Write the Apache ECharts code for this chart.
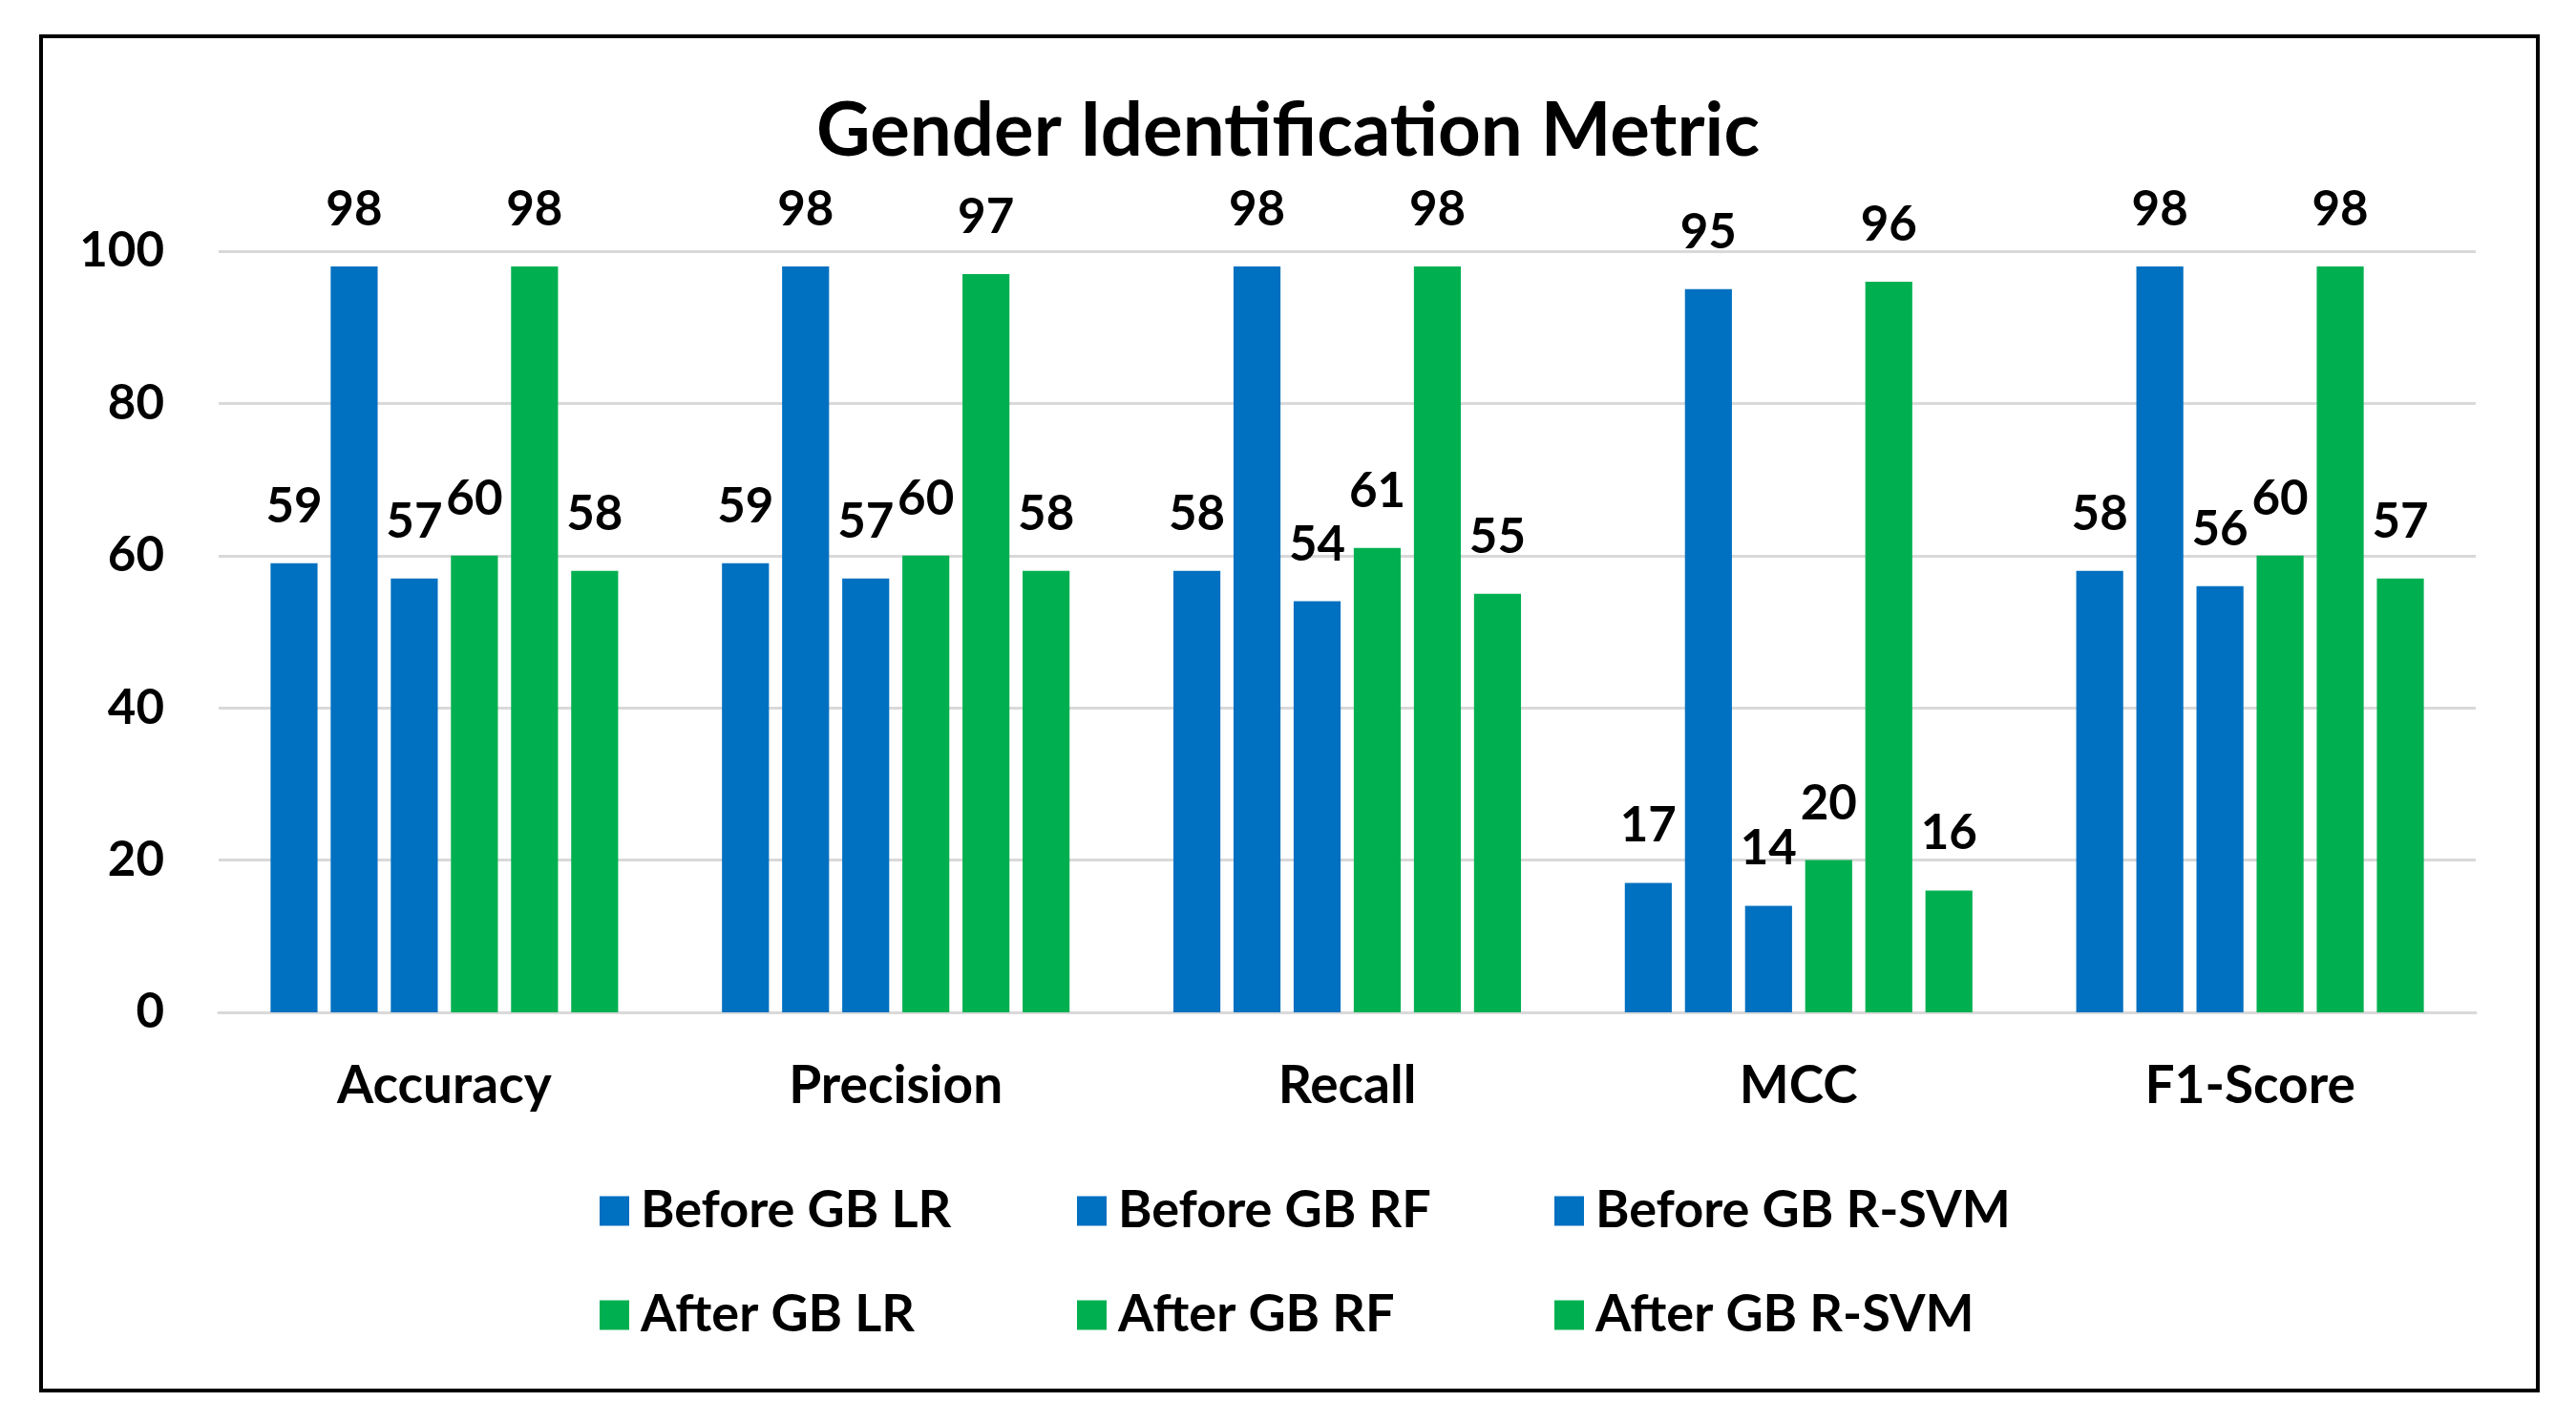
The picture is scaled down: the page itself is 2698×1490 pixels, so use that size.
<!DOCTYPE html>
<html>
<head>
<meta charset="utf-8">
<script src="https://cdn.jsdelivr.net/npm/echarts@6/dist/echarts.min.js"></script>
<style>
html,body{margin:0;padding:0;background:#fff;}
#chart{width:2698px;height:1490px;}
</style>
</head>
<body>
<div id="chart"></div>
<script>
const categories = ['Accuracy', 'Precision', 'Recall', 'MCC', 'F1-Score'];
const seriesNames = ['Before GB LR', 'Before GB RF', 'Before GB R-SVM', 'After GB LR', 'After GB RF', 'After GB R-SVM'];
const beforeLR = [59, 59, 58, 17, 58];
const beforeRF = [98, 98, 98, 95, 98];
const beforeRSVM = [57, 57, 54, 14, 56];
const afterLR = [60, 60, 61, 20, 60];
const afterRF = [98, 97, 98, 96, 98];
const afterRSVM = [58, 58, 55, 16, 57];
const yTicks = [0, 20, 40, 60, 80, 100];

const seriesData = [beforeLR, beforeRF, beforeRSVM, afterLR, afterRF, afterRSVM];
const BLUE = '#0070C0', GREEN = '#00B050';
const colors = [BLUE, BLUE, BLUE, GREEN, GREEN, GREEN];
const FONT = 'Lato';

const chart = echarts.init(document.getElementById('chart'), null, {renderer: 'canvas'});

const legendPos = [
  {left: 623, top: 1236}, {left: 1123, top: 1236}, {left: 1623, top: 1236},
  {left: 623, top: 1345}, {left: 1123, top: 1345}, {left: 1623, top: 1345}
];

const option = {
  backgroundColor: '#ffffff',
  animation: false,
  title: {
    text: 'Gender Identification Metric',
    left: 'center',
    top: 94,
    textStyle: {fontFamily: FONT, fontSize: 78, fontWeight: 'bold', color: '#000'}
  },
  legend: seriesNames.map((n, i) => ({
    data: [n],
    left: legendPos[i].left,
    top: legendPos[i].top,
    itemWidth: 31,
    itemHeight: 31,
    icon: 'rect',
    selectedMode: false,
    textStyle: {fontFamily: FONT, fontSize: 54, fontWeight: 'bold', color: '#000', lineHeight: 54, padding: [0, 0, 0, 7]}
  })),
  grid: {left: 229, right: 105, top: 263, bottom: 430, containLabel: false},
  xAxis: {
    type: 'category',
    data: categories,
    axisLine: {show: true, lineStyle: {color: '#D9D9D9', width: 3}},
    axisTick: {show: false},
    axisLabel: {fontFamily: FONT, fontSize: 55, fontWeight: 'bold', color: '#000', margin: 50}
  },
  yAxis: {
    type: 'value',
    min: yTicks[0],
    max: yTicks[yTicks.length - 1],
    interval: yTicks[1] - yTicks[0],
    axisLine: {show: false},
    axisTick: {show: false},
    splitLine: {lineStyle: {color: '#D9D9D9', width: 3}},
    axisLabel: {fontFamily: FONT, fontSize: 51, fontWeight: 'bold', color: '#000', margin: 57}
  },
  series: seriesNames.map((n, i) => ({
    name: n,
    type: 'bar',
    data: seriesData[i],
    itemStyle: {color: colors[i]},
    barGap: '28%',
    barCategoryGap: '23%',
    label: {
      show: true,
      position: 'top',
      distance: 34,
      fontFamily: FONT,
      fontSize: 51,
      fontWeight: 'bold',
      color: '#000'
    }
  })),
  graphic: [{
    type: 'rect',
    shape: {x: 43, y: 38, width: 2615, height: 1418},
    style: {fill: 'none', stroke: '#000', lineWidth: 4},
    silent: true,
    z: 100
  }]
};
chart.setOption(option);
</script>
</body>
</html>
